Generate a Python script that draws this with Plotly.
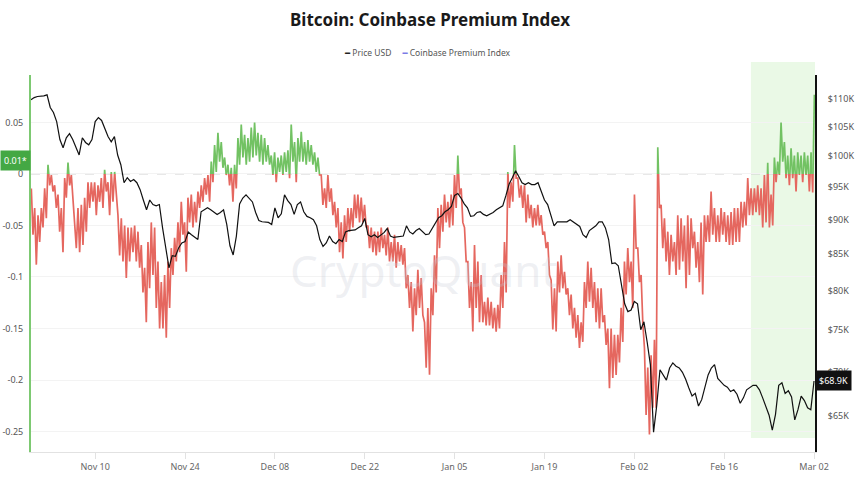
import numpy as np
import pandas as pd
import plotly.graph_objects as go

# ---------------- data ----------------
start = pd.Timestamp("2025-10-31")

# Coinbase Premium Index: high / low of each reading window
# (readings taken every ~12.46 h, first one at Oct 31 01:15)
prem_first = start + pd.Timedelta(hours=1.25)
prem_step_h = 12.46
premium_hi = [
    -0.014, -0.033, -0.040, -0.033, -0.014, 0.009, -0.001, -0.011, -0.020, -0.033,
    -0.004, 0.011, -0.001, -0.047, -0.033, -0.030, -0.023, -0.008, -0.008, -0.008,
    -0.011, -0.004, 0.004, -0.008, 0.002, 0.002, -0.040, -0.043, -0.050, -0.052,
    -0.052, -0.050, -0.056, -0.069, -0.091, -0.066, -0.047, -0.052, -0.085, -0.105,
    -0.098, -0.085, -0.072, -0.062, -0.047, -0.027, -0.047, -0.023, -0.020, -0.027,
    -0.017, -0.011, -0.004, -0.001, 0.012, 0.028, 0.040, 0.031, 0.016, 0.009,
    0.006, 0.009, 0.035, 0.048, 0.038, 0.035, 0.045, 0.050, 0.040, 0.038,
    0.035, 0.028, 0.018, 0.021, 0.016, 0.018, 0.021, 0.023, 0.048, 0.031,
    0.035, 0.041, 0.031, 0.033, 0.028, 0.021, 0.016, -0.001, -0.014, -0.001,
    -0.014, -0.027, -0.033, -0.047, -0.040, -0.033, -0.033, -0.020, -0.020, -0.023,
    -0.030, -0.050, -0.052, -0.056, -0.056, -0.052, -0.059, -0.052, -0.066, -0.059,
    -0.066, -0.069, -0.072, -0.098, -0.105, -0.111, -0.093, -0.101, -0.144, -0.130,
    -0.111, -0.079, -0.033, -0.030, -0.020, -0.027, -0.020, -0.001, 0.018, -0.014,
    -0.052, -0.085, -0.105, -0.069, -0.085, -0.098, -0.124, -0.120, -0.124, -0.130,
    -0.127, -0.098, -0.066, 0.002, -0.008, 0.028, -0.004, -0.011, -0.011, -0.020,
    -0.030, -0.033, -0.030, -0.040, -0.056, -0.066, -0.103, -0.111, -0.085, -0.079,
    -0.095, -0.111, -0.117, -0.130, -0.137, -0.144, -0.105, -0.085, -0.091, -0.105,
    -0.111, -0.111, -0.137, -0.150, -0.150, -0.156, -0.156, -0.130, -0.085, -0.072,
    -0.085, -0.020, -0.072, -0.098, -0.169, -0.188, -0.176, -0.161, 0.026, -0.030,
    -0.043, -0.056, -0.059, -0.066, -0.040, -0.043, -0.050, -0.040, -0.043, -0.056,
    -0.066, -0.047, -0.040, -0.040, -0.017, -0.033, -0.040, -0.033, -0.037, -0.040,
    -0.037, -0.033, -0.033, -0.027, -0.027, -0.004, -0.014, -0.014, -0.011, -0.014,
    -0.001, 0.011, -0.020, 0.016, 0.012, 0.050, 0.031, 0.018, 0.025, 0.018,
    0.021, 0.018, 0.021, 0.018, 0.021,
]
premium_lo = [
    -0.059, -0.088, -0.066, -0.052, -0.043, -0.011, -0.017, -0.033, -0.056, -0.076,
    -0.023, -0.011, -0.027, -0.072, -0.076, -0.069, -0.056, -0.033, -0.027, -0.040,
    -0.027, -0.033, -0.017, -0.040, -0.027, -0.020, -0.079, -0.085, -0.101, -0.085,
    -0.076, -0.085, -0.091, -0.115, -0.144, -0.111, -0.098, -0.130, -0.150, -0.150,
    -0.159, -0.130, -0.098, -0.085, -0.076, -0.059, -0.095, -0.047, -0.052, -0.047,
    -0.033, -0.027, -0.020, -0.027, -0.008, 0.002, 0.012, 0.006, -0.001, -0.011,
    -0.027, -0.014, 0.009, 0.016, 0.009, 0.012, 0.016, 0.018, 0.012, 0.009,
    0.012, 0.009, -0.001, -0.008, 0.002, -0.001, 0.002, -0.004, 0.012, -0.008,
    0.012, 0.012, 0.009, 0.012, 0.009, 0.002, -0.001, -0.030, -0.033, -0.027,
    -0.040, -0.052, -0.076, -0.082, -0.066, -0.056, -0.052, -0.043, -0.047, -0.047,
    -0.052, -0.072, -0.076, -0.079, -0.076, -0.072, -0.079, -0.085, -0.085, -0.091,
    -0.085, -0.088, -0.111, -0.130, -0.153, -0.137, -0.130, -0.137, -0.188, -0.195,
    -0.137, -0.115, -0.072, -0.056, -0.047, -0.052, -0.050, -0.033, -0.020, -0.047,
    -0.085, -0.130, -0.153, -0.130, -0.144, -0.144, -0.147, -0.147, -0.150, -0.153,
    -0.150, -0.130, -0.115, -0.033, -0.027, -0.004, -0.023, -0.033, -0.047, -0.043,
    -0.052, -0.050, -0.050, -0.059, -0.072, -0.098, -0.151, -0.153, -0.115, -0.111,
    -0.117, -0.137, -0.150, -0.159, -0.169, -0.163, -0.130, -0.124, -0.130, -0.144,
    -0.150, -0.144, -0.166, -0.208, -0.198, -0.195, -0.183, -0.163, -0.117, -0.105,
    -0.130, -0.072, -0.105, -0.144, -0.234, -0.253, -0.227, -0.227, -0.033, -0.072,
    -0.085, -0.098, -0.085, -0.098, -0.093, -0.085, -0.111, -0.098, -0.072, -0.091,
    -0.105, -0.117, -0.066, -0.066, -0.059, -0.066, -0.066, -0.059, -0.066, -0.069,
    -0.069, -0.066, -0.066, -0.052, -0.050, -0.040, -0.040, -0.037, -0.040, -0.052,
    -0.047, -0.052, -0.050, -0.008, -0.001, 0.012, -0.004, -0.011, -0.004, -0.017,
    -0.001, -0.008, -0.001, -0.017, -0.018,
]
premium_last = 0.077          # final reading (Mar 02)
premium_marker = "0.01*"

# Price USD (thousands), every 12 hours from Oct 31
price_k = [
    109.8, 110.2, 110.4, 110.4, 110.5, 110.7, 108.4, 107.5, 105.9, 102.8,
    101.4, 103.1, 103.8, 102.8, 101.6, 100.2, 103.1, 102.3, 101.9, 102.8,
    105.9, 106.6, 106.1, 104.8, 103.3, 102.4, 103.3, 100.2, 98.6, 95.7,
    96.5, 95.9, 96.2, 95.7, 94.6, 93.0, 91.5, 93.0, 92.3, 92.1,
    92.3, 88.8, 85.6, 83.1, 84.8, 84.7, 85.9, 86.6, 86.8, 88.2,
    87.8, 87.4, 87.1, 91.2, 91.5, 91.8, 91.5, 91.2, 90.8, 91.1,
    91.5, 89.3, 86.2, 84.9, 87.6, 92.4, 93.3, 93.8, 93.2, 92.7,
    91.1, 89.9, 89.7, 89.7, 89.6, 89.3, 91.8, 90.3, 90.9, 93.8,
    92.9, 92.3, 90.8, 92.3, 92.7, 91.2, 90.5, 90.3, 90.0, 89.1,
    87.1, 86.1, 86.6, 87.6, 86.8, 86.5, 87.1, 86.8, 88.2, 88.4,
    88.5, 88.5, 88.8, 89.1, 90.2, 87.8, 87.5, 87.8, 87.4, 87.8,
    88.1, 88.7, 87.6, 87.4, 87.5, 87.5, 87.6, 89.1, 88.2, 87.9,
    88.4, 88.7, 88.2, 87.8, 87.9, 88.7, 89.7, 90.3, 90.6, 91.2,
    91.5, 92.0, 93.7, 94.0, 93.3, 92.4, 91.8, 90.5, 90.6, 91.1,
    91.2, 90.8, 90.6, 90.8, 91.1, 91.5, 91.8, 92.1, 93.7, 95.5,
    96.5, 97.6, 96.7, 95.7, 95.4, 95.7, 95.4, 95.4, 95.7, 94.3,
    93.0, 92.3, 90.8, 89.1, 89.7, 89.7, 89.6, 89.7, 90.0, 89.7,
    89.4, 89.0, 87.8, 87.4, 88.4, 88.7, 89.1, 89.7, 89.7, 88.8,
    87.1, 83.7, 83.8, 83.4, 80.8, 78.3, 77.3, 77.5, 78.6, 78.3,
    75.0, 76.0, 73.5, 70.8, 63.3, 66.2, 70.2, 69.6, 69.0, 70.4,
    71.0, 70.6, 70.4, 69.9, 69.1, 68.1, 67.2, 67.5, 66.1, 66.8,
    68.1, 69.6, 70.4, 70.8, 69.2, 68.8, 68.4, 68.2, 67.7, 67.9,
    67.4, 66.4, 67.0, 67.9, 68.2, 68.4, 68.4, 67.9, 67.0, 66.0,
    65.1, 63.5, 65.2, 68.4, 68.7, 67.5, 67.8, 67.1, 64.6, 65.7,
    67.2, 66.7, 65.9, 65.7, 68.9,
]
price_step_h = 12
price_last_label = "$68.9K"

highlight_start = "2026-02-20 04:00"
x_end = "2026-03-02 03:40"

x_tickvals = ["2025-11-10", "2025-11-24", "2025-12-08", "2025-12-22", "2026-01-05",
              "2026-01-19", "2026-02-02", "2026-02-16", "2026-03-02"]
x_ticktext = ["Nov 10", "Nov 24", "Dec 08", "Dec 22", "Jan 05",
              "Jan 19", "Feb 02", "Feb 16", "Mar 02"]
left_tickvals = [-0.25, -0.2, -0.15, -0.1, -0.05, 0, 0.05]
left_ticktext = ["-0.25", "-0.2", "-0.15", "-0.1", "-0.05", "0", "0.05"]
right_tickvals = [65000, 70000, 75000, 80000, 85000, 90000, 95000, 100000, 105000, 110000]
right_ticktext = ["$65K", "$70K", "$75K", "$80K", "$85K", "$90K", "$95K", "$100K", "$105K", "$110K"]

RED = "#e5675f"
GREEN = "#72c263"

# ---------------- premium series: red below 0, green above ----------------
step = pd.Timedelta(hours=prem_step_h)
t = []
v = []
for k, (hi, lo) in enumerate(zip(premium_hi, premium_lo)):
    d = prem_first + k * step
    t += [d, d + step / 2]
    v += [hi, lo]
t.append(prem_first + len(premium_hi) * step)
v.append(premium_last)
tn = np.array([x.value for x in t], dtype=float)

segs = {"r": ([], []), "g": ([], [])}


def add(col, a, b, va, vb):
    xs, ys = segs[col]
    if xs and xs[-1] is not None and xs[-1] == a:
        xs.append(b)
        ys.append(vb)
    else:
        if xs:
            xs.append(None)
            ys.append(None)
        xs += [a, b]
        ys += [va, vb]


for i in range(len(v) - 1):
    a, b, va, vb = tn[i], tn[i + 1], v[i], v[i + 1]
    if va <= 0 and vb <= 0:
        add("r", a, b, va, vb)
    elif va >= 0 and vb >= 0:
        add("g", a, b, va, vb)
    else:
        c = a + (b - a) * (0 - va) / (vb - va)
        if va < 0:
            add("r", a, c, va, 0.0)
            add("g", c, b, 0.0, vb)
        else:
            add("g", a, c, va, 0.0)
            add("r", c, b, 0.0, vb)


def to_dt(xs):
    return [None if x is None else pd.Timestamp(int(x)) for x in xs]


price_t = [start + pd.Timedelta(hours=price_step_h * i) for i in range(len(price_k))]
price_usd = [p * 1000 for p in price_k]

fig = go.Figure()
fig.add_trace(go.Scatter(x=to_dt(segs["r"][0]), y=segs["r"][1], mode="lines",
                         line=dict(color=RED, width=1.7), hoverinfo="skip",
                         name="Coinbase Premium Index"))
fig.add_trace(go.Scatter(x=to_dt(segs["g"][0]), y=segs["g"][1], mode="lines",
                         line=dict(color=GREEN, width=1.7), hoverinfo="skip",
                         name="Coinbase Premium Index"))
fig.add_trace(go.Scatter(x=price_t, y=price_usd, mode="lines", yaxis="y2",
                         line=dict(color="#111111", width=1.2), name="Price USD"))

fig.update_layout(
    width=860, height=488,
    margin=dict(l=31, r=45, t=75, b=36, autoexpand=False),
    paper_bgcolor="white", plot_bgcolor="white",
    showlegend=False,
    font=dict(family="Noto Sans", size=9, color="#555555"),
    title=dict(text="<b>Bitcoin: Coinbase Premium Index</b>", x=0.5, xanchor="center",
               y=1 - 20 / 488, yanchor="middle", yref="container",
               font=dict(family="Noto Sans", size=17, color="#1a1a1a")),
    xaxis=dict(type="date", range=[start, x_end], tickvals=x_tickvals, ticktext=x_ticktext,
               showgrid=False, zeroline=False, showline=True, linecolor="#e2e2e2", linewidth=1,
               ticks="outside", ticklen=6, tickcolor="#e2e2e2", automargin=False,
               tickfont=dict(size=9, color="#666666")),
    yaxis=dict(range=[-0.2699, 0.0961], tickvals=left_tickvals, ticktext=left_ticktext,
               showgrid=True, gridcolor="#f3f3f3", zeroline=False, automargin=False,
               showline=True, linecolor="#7dc972", linewidth=2, ticks="",
               ticklabelstandoff=4, tickfont=dict(size=9, color="#555555")),
    yaxis2=dict(type="log", overlaying="y", side="right", automargin=False,
                range=[np.log10(61250), np.log10(114400)],
                tickvals=right_tickvals, ticktext=right_ticktext,
                showgrid=False, zeroline=False, showline=True, linecolor="#111111", linewidth=2,
                ticks="", ticklabelstandoff=9, tickfont=dict(size=9, color="#555555")),
)

fig.add_shape(type="rect", xref="x", yref="paper", x0=highlight_start, x1=x_end,
              y0=0.037, y1=1.0345, fillcolor="#eaf9e6", line=dict(width=0), layer="below")
fig.add_shape(type="line", xref="paper", yref="y", x0=0, x1=1, y0=0, y1=0,
              line=dict(color="#cfcfcf", width=1, dash="dash"), layer="below")

fig.add_annotation(xref="paper", yref="paper", x=0.506, y=1.0584, showarrow=False,
                   text="<span style='color:#222222;font-family:DejaVu Sans'>━</span> Price USD     "
                        "<span style='color:#7b7be6;font-family:DejaVu Sans'>━</span> Coinbase Premium Index",
                   font=dict(size=8.5, color="#555555"), xanchor="center", yanchor="middle")
fig.add_annotation(xref="paper", yref="paper", x=0.5, y=0.483, showarrow=False,
                   text="CryptoQuant", font=dict(size=44, color="rgba(200,203,215,0.3)"),
                   xanchor="center", yanchor="middle")
fig.add_annotation(xref="paper", yref="y", x=0, y=0.0135, showarrow=False,
                   text=premium_marker, xanchor="right", yanchor="middle",
                   bgcolor="#44a844", borderpad=3, font=dict(size=9, color="white"))
fig.add_annotation(xref="paper", yref="y2", x=1, y=np.log10(price_usd[-1]), showarrow=False,
                   text=price_last_label, xanchor="left", yanchor="middle",
                   bgcolor="#111111", borderpad=3, font=dict(size=9, color="white"))

fig.write_html("out.html")
